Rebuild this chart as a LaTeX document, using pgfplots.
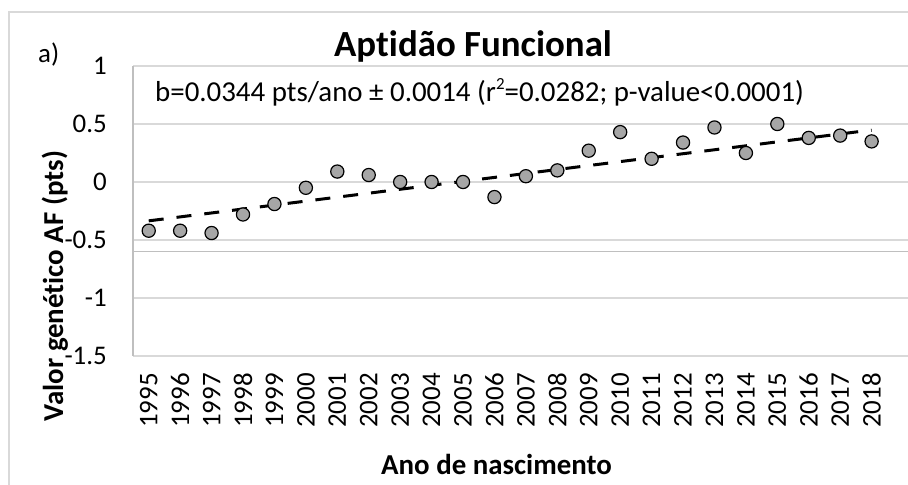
\documentclass[border=0pt]{standalone}
\usepackage{pgfplots}
\pgfplotsset{compat=1.18}
\usepackage{fontspec}
\setmainfont{Carlito}[Ligatures=NoCommon]
\definecolor{gridc}{HTML}{D9D9D9}
\definecolor{axc}{HTML}{BFBFBF}
\definecolor{markc}{HTML}{A6A6A6}
\begin{document}
\begin{tikzpicture}[x=1bp,y=1bp]
\useasboundingbox (0,0) rectangle (908,485);
\fill[white] (0,0) rectangle (908,485);
\draw[gridc, line width=1.3bp] (9,-2) -- (9,473) -- (910,473);
\begin{axis}[
  at={(133bp,129bp)}, anchor=south west,
  scale only axis, width=775bp, height=290bp,
  xmin=1994.5, xmax=2019.158, ymin=-1.5, ymax=1,
  xtick={1995,1996,1997,1998,1999,2000,2001,2002,2003,2004,2005,2006,2007,2008,2009,2010,2011,2012,2013,2014,2015,2016,2017,2018},
  ytick={-1.5,-1,-0.5,0,0.5,1},
  /pgf/number format/assume math mode=true,
  /pgf/number format/1000 sep={},
  ymajorgrids, major grid style={gridc, line width=1.1bp},
  axis line style={draw=none},
  major tick length=0pt,
  yticklabel style={anchor=east, inner sep=0pt, xshift=-26bp, font=\fontsize{27}{30}\selectfont},
  xticklabel style={yshift=-17bp, rotate=90, anchor=east, inner sep=0pt, font=\fontsize{27}{30}\selectfont},
  clip=false,
]
\draw[axc, line width=1.3bp] (rel axis cs:0,0) -- (rel axis cs:0,1);
\draw[axc, line width=1.3bp] (rel axis cs:0,0.36) -- (rel axis cs:1,0.36);
\addplot[only marks, mark=*, mark size=6.6bp, mark options={fill=markc, draw=black, line width=1.2bp}] table {
x y
1995 -0.42
1996 -0.42
1997 -0.44
1998 -0.28
1999 -0.19
2000 -0.05
2001 0.09
2002 0.06
2003 0.00
2004 0.00
2005 0.00
2006 -0.13
2007 0.05
2008 0.10
2009 0.27
2010 0.43
2011 0.20
2012 0.34
2013 0.47
2014 0.25
2015 0.50
2016 0.38
2017 0.40
2018 0.35
};
\addplot[black, line width=3bp, dash pattern=on 15bp off 13bp] coordinates {(1995,-0.335) (2018,0.448)};
\end{axis}
\node[anchor=base, inner sep=0pt] at (473,428) {\fontsize{37}{40}\selectfont\bfseries Aptidão Funcional};
\node[anchor=base west, inner sep=0pt] at (38,422) {\fontsize{27}{30}\selectfont a)};
\node[anchor=base west, inner sep=0pt] at (155,383) {\fontsize{29}{32}\selectfont b=0.0344 pts/ano ± 0.0014 (r\raisebox{0.42em}{\fontsize{17}{17}\selectfont 2}=0.0282; p-value<0.0001)};
\node[anchor=base, rotate=90, inner sep=0pt] at (63,199) {\fontsize{29}{32}\selectfont\bfseries Valor genético AF (pts)};
\node[anchor=base, inner sep=0pt] at (496.5,10) {\fontsize{29}{32}\selectfont\bfseries Ano de nascimento};
\end{tikzpicture}
\end{document}
